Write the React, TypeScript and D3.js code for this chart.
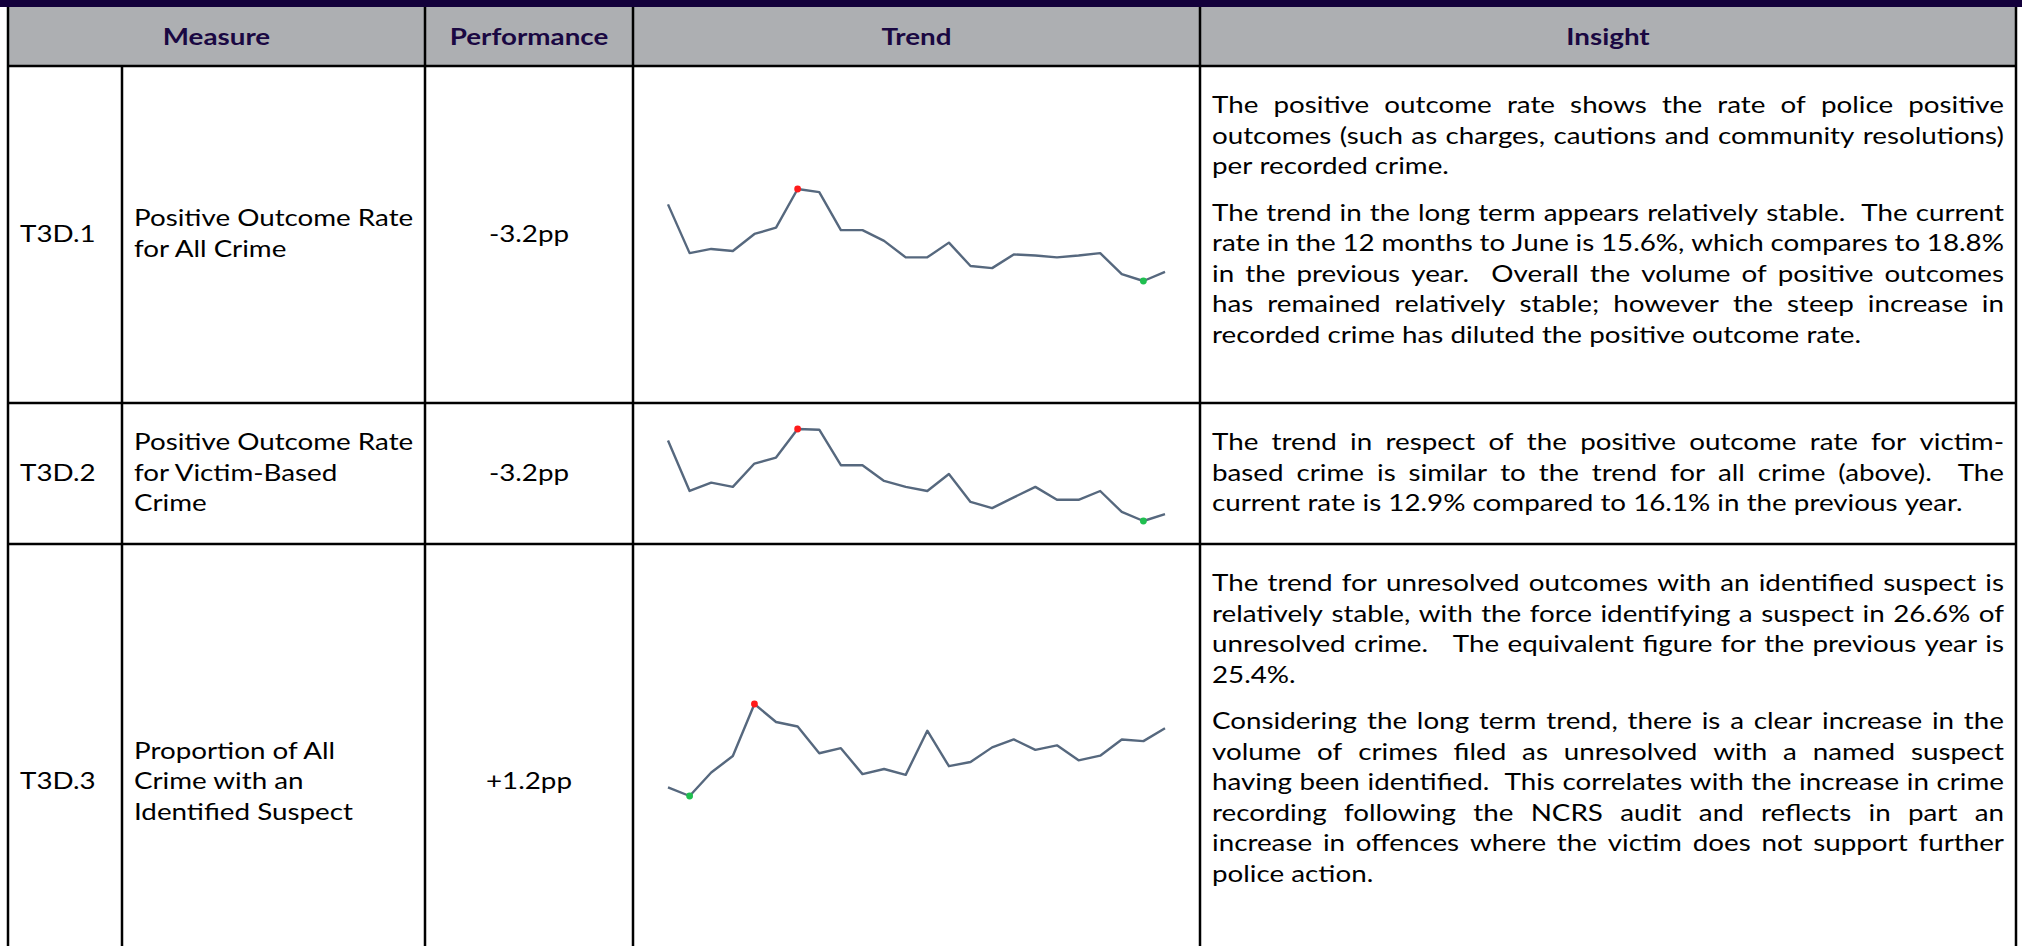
import { useRef, useEffect } from "react"
import * as d3 from "d3"

const headers = ["Measure", "Performance", "Trend", "Insight"]
const measureIds = ["T3D.1", "T3D.2", "T3D.3"]
const measureNames = [
  ["Positive Outcome Rate", "for All Crime"],
  ["Positive Outcome Rate", "for Victim-Based", "Crime"],
  ["Proportion of All", "Crime with an", "Identified Suspect"],
]
const performance = ["-3.2pp", "-3.2pp", "+1.2pp"]

// sparkline values (auto-scaled min..max per row)
const trendAllCrime = [
  20.83, 17.12, 17.44, 17.28, 18.58, 19.06, 22.0, 21.76, 18.87, 18.87, 18.05, 16.8,
  16.8, 17.92, 16.14, 15.98, 17.02, 16.94, 16.8, 16.94, 17.12, 15.53, 15.0, 15.69,
]
const trendVictimBased = [
  18.19, 14.62, 15.21, 14.91, 16.56, 16.98, 19.0, 18.95, 16.44, 16.44, 15.33, 14.91,
  14.62, 15.82, 13.85, 13.41, 14.17, 14.91, 14.0, 14.0, 14.62, 13.14, 12.5, 12.99,
]
const trendSuspect = [
  21.99, 21.31, 23.15, 24.43, 28.5, 27.09, 26.74, 24.65, 25.05, 23.02, 23.42, 22.96,
  26.41, 23.64, 23.97, 25.11, 25.73, 24.92, 25.27, 24.1, 24.46, 25.73, 25.6, 26.6,
]
const trends = [trendAllCrime, trendVictimBased, trendSuspect]

const insightAllCrime = [
  [
    "The positive outcome rate shows the rate of police positive",
    "outcomes (such as charges, cautions and community resolutions)",
    "per recorded crime.",
  ],
  [
    "The trend in the long term appears relatively stable.  The current",
    "rate in the 12 months to June is 15.6%, which compares to 18.8%",
    "in the previous year.  Overall the volume of positive outcomes",
    "has remained relatively stable; however the steep increase in",
    "recorded crime has diluted the positive outcome rate.",
  ],
]
const insightVictimBased = [
  [
    "The trend in respect of the positive outcome rate for victim-",
    "based crime is similar to the trend for all crime (above).  The",
    "current rate is 12.9% compared to 16.1% in the previous year.",
  ],
]
const insightSuspect = [
  [
    "The trend for unresolved outcomes with an identified suspect is",
    "relatively stable, with the force identifying a suspect in 26.6% of",
    "unresolved crime.   The equivalent figure for the previous year is",
    "25.4%.",
  ],
  [
    "Considering the long term trend, there is a clear increase in the",
    "volume of crimes filed as unresolved with a named suspect",
    "having been identified.  This correlates with the increase in crime",
    "recording following the NCRS audit and reflects in part an",
    "increase in offences where the victim does not support further",
    "police action.",
  ],
]
const insights = [insightAllCrime, insightVictimBased, insightSuspect]

export default function App() {
  const svgRef = useRef<SVGSVGElement>(null)

  function drawTable() {
    const width = 2022
    const height = 946
    const fontFamily = "Lato, 'Open Sans', sans-serif"
    const fontSize = 23
    const lineH = 30.5
    const paraGap = 16

    const colX = [8, 122, 425, 633, 1200, 2016]
    const headerTop = 7
    const headerBottom = 66
    const rowTops = [66, 403, 544]
    const rowMids = [234.5, 473.5, 782]
    const sparkMids = [235, 475, 750]
    const sparkHalf = 46
    const pad = 12

    const svg = d3.select(svgRef.current)
    svg.selectAll("*").remove()
    svg.attr("width", width).attr("height", height)

    // text measuring
    const probe = svg
      .append("text")
      .attr("font-family", fontFamily)
      .attr("font-size", fontSize)
      .style("white-space", "pre")
    const measure = (s: string, weight = "normal") => {
      probe.attr("font-weight", weight).text(s)
      return (probe.node() as SVGTextElement).getComputedTextLength()
    }
    // the reference text is a little wider than it is tall, so stretch horizontally
    const sx = 750 / measure("current rate is 12.9% compared to 16.1% in the previous year.")
    const spaceW = (measure("x x") - measure("xx")) * sx

    // backgrounds
    svg.append("rect").attr("x", 0).attr("y", 0).attr("width", width).attr("height", height).attr("fill", "#fff")
    svg.append("rect").attr("x", 0).attr("y", 0).attr("width", width).attr("height", headerTop).attr("fill", "#13003b")
    svg
      .append("rect")
      .attr("x", colX[0])
      .attr("y", headerTop)
      .attr("width", colX[5] - colX[0])
      .attr("height", headerBottom - headerTop)
      .attr("fill", "#adafb2")

    const textLayer = svg.append("g").attr("font-family", fontFamily).attr("font-size", fontSize)
    const put = (s: string, x: number, y: number, anchor = "start", weight = "normal", fill = "#000") =>
      textLayer
        .append("text")
        .attr("transform", `translate(${x},${y}) scale(${sx},1)`)
        .attr("text-anchor", anchor)
        .attr("font-weight", weight)
        .attr("fill", fill)
        .text(s)

    // Header
    const headerCenters = [
      (colX[0] + colX[2]) / 2,
      (colX[2] + colX[3]) / 2,
      (colX[3] + colX[4]) / 2,
      (colX[4] + colX[5]) / 2,
    ]
    headers.forEach((h, i) => put(h, headerCenters[i], 44.5, "middle", "bold", "#1a0842"))

    // Measure / Performance columns
    measureIds.forEach((id, r) => {
      put(id, colX[0] + pad, rowMids[r] + 7)
      const names = measureNames[r]
      names.forEach((n, i) => {
        const y = rowMids[r] + (i - (names.length - 1) / 2) * lineH + 7
        put(n, colX[1] + pad, y)
      })
      put(performance[r], (colX[2] + colX[3]) / 2, rowMids[r] + 7, "middle")
    })

    // Insight column, justified
    const textW = colX[5] - colX[4] - pad * 2
    insights.forEach((paras, r) => {
      let y = rowTops[r] + 47
      paras.forEach((lines, p) => {
        if (p > 0) y += paraGap
        lines.forEach((line, li) => {
          const tokens = line.split(" ")
          const widths = tokens.map((t) => (t ? measure(t) * sx : 0))
          const last = li === lines.length - 1
          const gap = last || tokens.length < 2 ? spaceW : (textW - d3.sum(widths)) / (tokens.length - 1)
          let x = colX[4] + pad
          tokens.forEach((t, i) => {
            if (t) put(t, x, y)
            x += widths[i] + gap
          })
          y += lineH
        })
      })
    })
    probe.remove()

    // Trend sparklines
    const sparkLayer = svg.append("g")
    trends.forEach((vals, r) => {
      const xScale = d3.scaleLinear().domain([0, vals.length - 1]).range([668, 1165])
      const [lo, hi] = d3.extent(vals) as [number, number]
      const yScale = d3
        .scaleLinear()
        .domain([lo, hi])
        .range([sparkMids[r] + sparkHalf, sparkMids[r] - sparkHalf])
      const line = d3
        .line<number>()
        .x((d, i) => xScale(i))
        .y((d) => yScale(d))
      sparkLayer
        .append("path")
        .attr("d", line(vals))
        .attr("fill", "none")
        .attr("stroke", "#56687e")
        .attr("stroke-width", 2.4)
        .attr("stroke-linejoin", "round")
      const iMax = d3.maxIndex(vals)
      const iMin = d3.minIndex(vals)
      sparkLayer.append("circle").attr("cx", xScale(iMax)).attr("cy", yScale(vals[iMax])).attr("r", 3.4).attr("fill", "#ff1a1a")
      sparkLayer.append("circle").attr("cx", xScale(iMin)).attr("cy", yScale(vals[iMin])).attr("r", 3.4).attr("fill", "#1fbf4f")
    })

    // Grid lines
    const grid = svg.append("g").attr("stroke", "#000").attr("stroke-width", 2.5)
    const vLine = (x: number, y0: number) => grid.append("line").attr("x1", x).attr("x2", x).attr("y1", y0).attr("y2", height)
    vLine(colX[0], headerTop)
    vLine(colX[1], headerBottom)
    vLine(colX[2], headerTop)
    vLine(colX[3], headerTop)
    vLine(colX[4], headerTop)
    vLine(colX[5], headerTop)
    ;[headerBottom, rowTops[1], rowTops[2]].forEach((y) =>
      grid.append("line").attr("x1", colX[0]).attr("x2", colX[5]).attr("y1", y).attr("y2", y)
    )
  }

  useEffect(() => {
    document.fonts.ready.then(() => drawTable())
  }, [svgRef])

  return (
    <div>
      <svg ref={svgRef} style={{ position: "absolute", left: 0, top: 0 }}></svg>
    </div>
  )
}
